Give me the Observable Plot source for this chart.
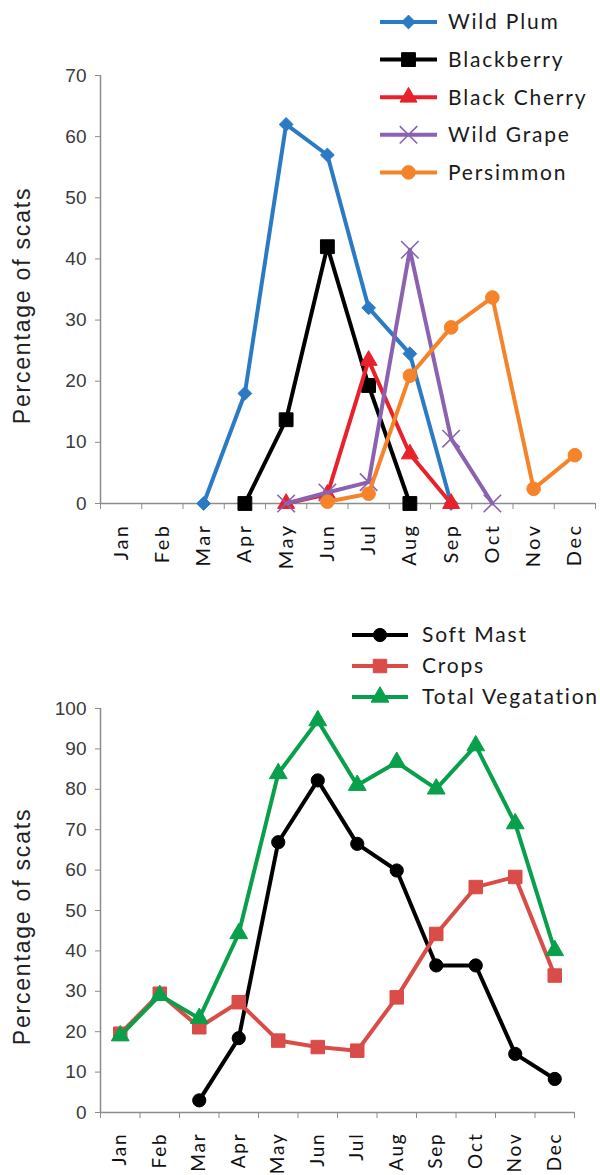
<!DOCTYPE html>
<html><head><meta charset="utf-8">
<script src="https://cdn.jsdelivr.net/npm/d3@7"></script>
<script src="https://cdn.jsdelivr.net/npm/@observablehq/plot@0.6"></script>
<style>
body{margin:0;background:#fff;}
#wrap{position:relative;width:600px;height:1175px;overflow:hidden;}
.chart{position:absolute;left:0;}
.legend{position:absolute;}
</style></head><body><div id="wrap"></div>
<script>
const months = ["Jan","Feb","Mar","Apr","May","Jun","Jul","Aug","Sep","Oct","Nov","Dec"];

// Top chart: fruit species
const fruitNames = ["Wild Plum","Blackberry","Black Cherry","Wild Grape","Persimmon"];
const wildPlum    = [null,null,0,18,62,57,32,24.5,0,null,null,null];
const blackberry  = [null,null,null,0,13.7,42,19.3,0,null,null,null,null];
const blackCherry = [null,null,null,null,0,1.5,23.4,8.1,0,null,null,null];
const wildGrape   = [null,null,null,null,0,1.8,3.5,41.5,10.6,0,null,null];
const persimmon   = [null,null,null,null,null,0.3,1.6,20.9,28.8,33.7,2.4,7.9];
const fruitTicks = [0,10,20,30,40,50,60,70];

// Bottom chart: food categories
const foodNames = ["Soft Mast","Crops","Total Vegatation"];
const softMast = [null,null,3,18.4,66.9,82.2,66.5,59.9,36.4,36.4,14.5,8.3];
const crops    = [19.5,29.4,21.1,27.3,17.8,16.2,15.3,28.5,44.2,55.8,58.3,33.9];
const totalVeg = [19,29,23.3,44.3,83.9,97,81,86.7,80.1,90.8,71.5,40.1];
const foodTicks = [0,10,20,30,40,50,60,70,80,90,100];

const fruitStyles = [
  {color:"#2b7bc4", symbol:"diamond2", r:6.2, d3sym:d3.symbolDiamond2},
  {color:"#000000", symbol:"square", r:7.8, d3sym:d3.symbolSquare},
  {color:"#e8212b", symbol:"triangle", r:6.3, d3sym:d3.symbolTriangle},
  {color:"#8b62b0", symbol:"times", r:8, d3sym:d3.symbolTimes, strokeOnly:true},
  {color:"#f5832a", symbol:"circle", r:6.8, d3sym:d3.symbolCircle}
];
const foodStyles = [
  {color:"#000000", symbol:"circle", r:6.6, d3sym:d3.symbolCircle},
  {color:"#d94c48", symbol:"square", r:7.6, d3sym:d3.symbolSquare},
  {color:"#08a04b", symbol:"triangle", r:6.6, d3sym:d3.symbolTriangle}
];

function rowsOf(name, arr){
  return arr.map((v,i)=>({series:name, x:i+0.5, y:v})).filter(d=>d.y!=null);
}

function chart({names, values, styles, ticks, yMax, height, marginTop, marginBottom, marginRight, monthSize, monthSpacing}){
  const marks = [
    Plot.ruleY([0], {stroke:"#8c8c8c", strokeWidth:1.5}),
    Plot.ruleX([0], {stroke:"#8c8c8c", strokeWidth:1.5}),
    Plot.axisY({ticks, tickSize:5, tickPadding:9, fontSize:19, fontFamily:"Liberation Sans, Arial, sans-serif",
      stroke:"#8c8c8c", fill:"#3a3a3a", label:null}),
    Plot.axisX({ticks: d3.range(0,13), tickFormat: ()=>"", tickSize:6, stroke:"#8c8c8c", label:null}),
    Plot.axisX({ticks: d3.range(12).map(i=>i+0.5), tickFormat: d=>months[Math.floor(d)], tickSize:0,
      tickPadding:20, tickRotate:-90, fontSize:monthSize, fontFamily:"Lato, sans-serif", fill:"#111", label:null}),
    Plot.text(["Percentage of scats"], {frameAnchor:"left", textAnchor:"middle", rotate:-90, dx:-78, dy:16, fontSize:23,
      fontFamily:"Liberation Sans, Arial, sans-serif", fill:"#222"})
  ];
  names.forEach((n,k)=>{
    const rows = rowsOf(n, values[k]);
    const s = styles[k];
    marks.push(Plot.line(rows, {x:"x", y:"y", stroke:s.color, strokeWidth:4}));
    if (s.strokeOnly) marks.push(Plot.dot(rows, {x:"x", y:"y", symbol:s.symbol, r:s.r, stroke:s.color, strokeWidth:1.6}));
    else marks.push(Plot.dot(rows, {x:"x", y:"y", symbol:s.symbol, r:s.r, fill:s.color, stroke:s.color, strokeWidth:1}));
  });
  const svg = Plot.plot({
    width:600, height, marginTop, marginBottom, marginLeft:100, marginRight,
    x:{domain:[0,12]}, y:{domain:[0,yMax]},
    style:{background:"transparent", overflow:"visible"},
    marks
  });
  const sel = d3.select(svg);
  sel.selectAll("g[aria-label='x-axis tick label']").attr("font-size", monthSize).attr("letter-spacing", monthSpacing);
  sel.selectAll("g[aria-label='y-axis tick label']").attr("font-size", 19);
  sel.selectAll("g[aria-label='text']").attr("letter-spacing", "1.8px");
  return svg;
}

function legend(names, styles, {left, top, y0, spacing, lineX1, textX, fontSize, height}){
  const svg = d3.create("svg").attr("width", 600-left).attr("height", height)
    .attr("class","legend").style("left", left+"px").style("top", top+"px");
  names.forEach((n,i)=>{
    const y = y0 + i*spacing, s = styles[i];
    const g = svg.append("g");
    g.append("line").attr("x1",0).attr("x2",lineX1).attr("y1",y).attr("y2",y)
      .attr("stroke",s.color).attr("stroke-width",4);
    const p = g.append("path").attr("d", d3.symbol(s.d3sym, Math.PI*s.r*s.r)())
      .attr("transform",`translate(${lineX1/2},${y})`);
    if (s.strokeOnly) p.attr("fill","none").attr("stroke",s.color).attr("stroke-width",1.6);
    else p.attr("fill",s.color).attr("stroke",s.color);
    g.append("text").attr("x",textX).attr("y",y).attr("dy","0.35em")
      .attr("font-family","Lato, sans-serif").attr("font-size",fontSize)
      .attr("letter-spacing","1.8px").attr("fill","#1a1a1a").text(n);
  });
  return svg.node();
}

const wrap = document.getElementById("wrap");

const top1 = chart({names:fruitNames, values:[wildPlum,blackberry,blackCherry,wildGrape,persimmon],
  styles:fruitStyles, ticks:fruitTicks, yMax:70, height:600, marginTop:75, marginBottom:97, marginRight:5,
  monthSize:20, monthSpacing:"2.5px"});
top1.classList.add("chart"); top1.style.top = "0px";
wrap.appendChild(top1);

const bot = chart({names:foodNames, values:[softMast,crops,totalVeg],
  styles:foodStyles, ticks:foodTicks, yMax:100, height:575, marginTop:108, marginBottom:63, marginRight:26,
  monthSize:19, monthSpacing:"1.8px"});
bot.classList.add("chart"); bot.style.top = "600px";
wrap.appendChild(bot);

wrap.appendChild(legend(fruitNames, fruitStyles, {left:380, top:0, y0:22, spacing:37.6, lineX1:57, textX:68, fontSize:21, height:195}));
wrap.appendChild(legend(foodNames, foodStyles, {left:352, top:600, y0:35, spacing:31, lineX1:56, textX:70, fontSize:21, height:110}));
</script></body></html>
